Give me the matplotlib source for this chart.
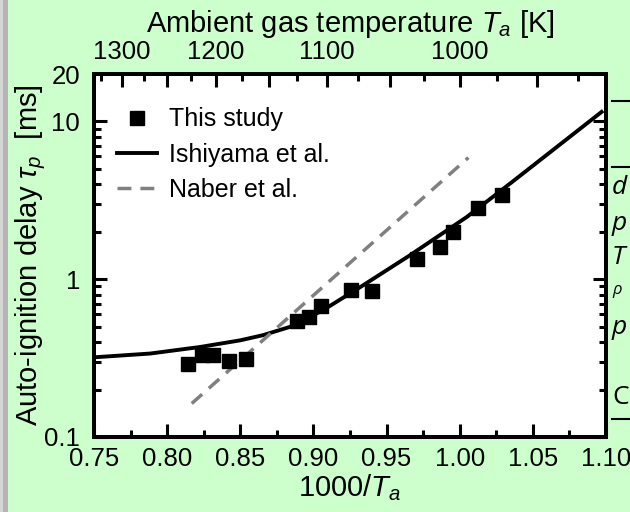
import numpy as np
import matplotlib.pyplot as plt
from matplotlib.patches import Rectangle

parameters = {'font.family': ['Liberation Sans', 'DejaVu Sans'],
              'font.size': 18,
              'mathtext.fontset': 'custom',
              'mathtext.rm': 'Liberation Sans',
              'mathtext.it': 'Liberation Sans:italic',
              'axes.linewidth': 2.8}
plt.rcParams.update(parameters)

# this study (measured)
x_study = [0.8145, 0.8236, 0.8316, 0.8425, 0.8539, 0.8890, 0.8972, 0.9052,
           0.9255, 0.9403, 0.9705, 0.9865, 0.9956, 1.0127, 1.0291]
y_study = [0.292, 0.330, 0.333, 0.303, 0.310, 0.542, 0.577, 0.674,
           0.852, 0.843, 1.353, 1.60, 1.99, 2.81, 3.41]

# Ishiyama et al. correlation
x_ishi = [0.75, 0.7883, 0.8225, 0.8500, 0.8655, 0.884, 0.9065, 0.934,
          0.966, 1.0048, 1.0344, 1.097]
y_ishi = [0.320, 0.338, 0.372, 0.410, 0.442, 0.499, 0.636, 0.916,
          1.419, 2.48, 4.04, 11.5]

# Naber et al.
x_naber = [0.8168, 1.0059]
y_naber = [0.163, 5.90]

x_ticks = [0.75, 0.80, 0.85, 0.90, 0.95, 1.00, 1.05, 1.10]
y_ticks = [0.1, 1, 10, 20]
y_ticklabels = ['0.1', '1', '10', '20']
T_major = [1300, 1250, 1200, 1150, 1100, 1050, 1000, 950]
T_labels = ['1300', '', '1200', '', '1100', '', '1000', '']
T_minor = [1325, 1275, 1225, 1175, 1125, 1075, 1025, 975, 925]

fig = plt.figure(figsize=(6.3, 5.12), dpi=100)
fig.patch.set_facecolor('#ccffcc')
fig.patches.append(Rectangle((0, 0), 8 / 630, 1, transform=fig.transFigure,
                             facecolor='#b4b4b4', edgecolor='none', zorder=0))
fig.patches.append(Rectangle((0, 0), 3 / 630, 1, transform=fig.transFigure,
                             facecolor='#d6d6d6', edgecolor='none', zorder=0))

ax = fig.add_axes([94 / 630, 75 / 512, 512 / 630, 363 / 512])
ax.set_facecolor('white')

ax.plot(x_study, y_study, 's', color='black', markersize=10.5, label='This study', zorder=3)
ax.plot(x_ishi, y_ishi, '-', color='black', lw=2.8, label='Ishiyama et al.')
ax.plot(x_naber, y_naber, color='#808080', lw=2.5, dashes=(4, 2.6), label='Naber et al.')

ax.set_yscale('log')
ax.set_xlim(0.75, 1.10)
ax.set_ylim(0.1, 20)
ax.set_xticks(x_ticks)
ax.set_xticklabels(['%.2f' % v for v in x_ticks])
ax.set_xticks(np.arange(0.775, 1.10, 0.05), minor=True)
ax.set_yticks(y_ticks)
ax.set_yticklabels(y_ticklabels)
ax.tick_params(which='both', direction='in', right=True, width=2.2, labelsize=18.5)
ax.tick_params(which='major', length=9.5)
ax.tick_params(which='minor', length=5)
ax.tick_params(axis='x', pad=7)
ax.tick_params(axis='y', pad=10)
ax.tick_params(axis='y', which='minor', labelleft=False)

ax.set_xlabel('1000/$\\mathit{T_a}$', fontsize=21, labelpad=1)
ax.set_ylabel('Auto-ignition delay $\\tau_p$  [ms]', fontsize=21, labelpad=-3)

ax2 = ax.twiny()
ax2.set_xlim(ax.get_xlim())
ax2.set_xticks([1000 / t for t in T_major])
ax2.set_xticklabels(T_labels)
ax2.set_xticks([1000 / t for t in T_minor], minor=True)
ax2.tick_params(which='both', direction='in', width=2.2, pad=7, labelsize=18.5)
ax2.tick_params(which='major', length=9.5)
ax2.tick_params(which='minor', length=5)
ax2.set_xlabel('Ambient gas temperature $\\mathit{T_a}$ [K]', fontsize=21, labelpad=6)

ax.legend(loc='upper left', bbox_to_anchor=(0.0, 0.97), frameon=False,
          handlelength=1.6, handletextpad=0.5, labelspacing=0.45, fontsize=18)

# fragment of neighbouring table at the right edge
for yy in [100.7, 167, 419]:
    fig.add_artist(plt.Line2D([612 / 630, 1], [1 - yy / 512, 1 - yy / 512],
                              transform=fig.transFigure, color='black', lw=1.5))
table_txt = ['d', 'p', 'T', '\u03c1', 'p', 'C']
table_y = [188, 223, 257, 290, 327, 397]
table_sz = [19, 19, 19, 12, 19, 19]
table_st = ['italic', 'italic', 'italic', 'italic', 'italic', 'normal']
for s, yy, sz, st in zip(table_txt, table_y, table_sz, table_st):
    fig.text(612 / 630, 1 - yy / 512, s, fontsize=sz, style=st, va='center', ha='left',
             family='Open Sans')

plt.savefig('out.png', dpi=100, facecolor=fig.get_facecolor())
